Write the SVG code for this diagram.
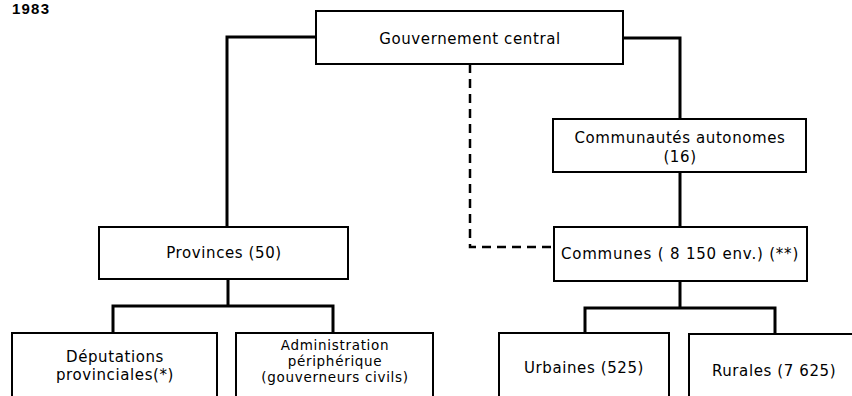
<svg xmlns="http://www.w3.org/2000/svg" width="852" height="396" viewBox="0 0 852 396">
<style>
.box{fill:#fff;stroke:#000;stroke-width:2}
.t{font-family:"DejaVu Sans","Liberation Sans",sans-serif;font-size:15px;letter-spacing:0.6px;fill:#000;text-anchor:middle}
.s{font-size:13.5px;letter-spacing:0.7px}
.c{fill:none;stroke:#000;stroke-width:3}
.d{fill:none;stroke:#000;stroke-width:2.5;stroke-dasharray:9 6}
</style>
<rect width="852" height="396" fill="#fff"/>
<text x="12" y="14" style="font-family:'Liberation Sans',sans-serif;font-weight:bold;font-size:15px;letter-spacing:1.2px">1983</text>
<g id="connectors">
<path class="c" d="M316,37 H227 V227"/>
<path class="c" d="M623,38 H680 V119"/>
<path class="c" d="M680,172 V227"/>
<path class="d" d="M470,64 V247 H554"/>
<path class="c" d="M228,279 V306"/>
<path class="c" d="M113,333 V306 H333 V333"/>
<path class="c" d="M680,281 V308"/>
<path class="c" d="M585,333 V308 H775 V334"/>
</g>
<g id="gouvernement">
<rect class="box" x="316" y="11" width="307" height="53"/>
<text class="t" x="470" y="44">Gouvernement central</text>
</g>
<g id="communautes">
<rect class="box" x="553" y="119" width="253" height="53"/>
<text class="t" x="680" y="143">Communautés autonomes</text>
<text class="t" x="680" y="162">(16)</text>
</g>
<g id="communes">
<rect class="box" x="554" y="227" width="253" height="54"/>
<text class="t" x="680" y="259" style="letter-spacing:0.8px">Communes ( 8 150 env.) (**)</text>
</g>
<g id="provinces">
<rect class="box" x="99" y="227" width="249" height="52"/>
<text class="t" x="224" y="258">Provinces (50)</text>
</g>
<g id="deputations">
<rect class="box" x="12" y="333" width="205" height="72"/>
<text class="t" x="115" y="362">Députations</text>
<text class="t" x="115" y="380">provinciales(*)</text>
</g>
<g id="administration">
<rect class="box" x="236" y="333" width="197" height="72"/>
<text class="t s" x="335" y="350">Administration</text>
<text class="t s" x="335" y="366">périphérique</text>
<text class="t s" x="335" y="382">(gouverneurs civils)</text>
</g>
<g id="urbaines">
<rect class="box" x="499" y="333" width="170" height="72"/>
<text class="t" x="584" y="373">Urbaines (525)</text>
</g>
<g id="rurales">
<rect class="box" x="689" y="334" width="180" height="72"/>
<text class="t" x="774" y="376">Rurales (7 625)</text>
</g>
</svg>
